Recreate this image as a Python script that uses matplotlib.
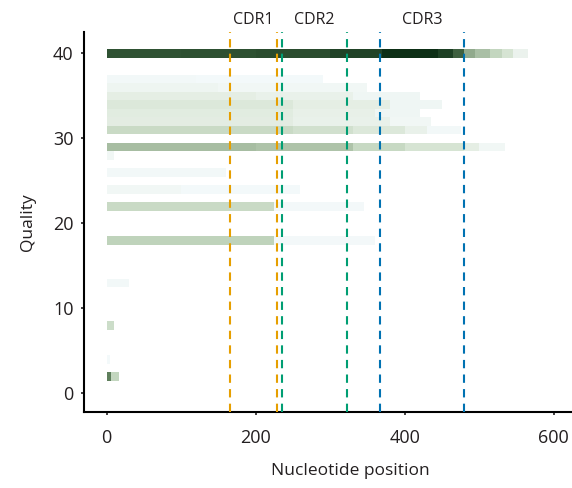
import numpy as np
import matplotlib
matplotlib.use("Agg")
import matplotlib.pyplot as plt
from matplotlib.colors import LinearSegmentedColormap

# ---- data: per quality row, piecewise segments (start, end, relative density) ----
q40 = [(0, 100, 0.80), (100, 200, 0.81), (200, 300, 0.83), (300, 370, 0.88),
       (370, 445, 0.99), (445, 465, 0.90), (465, 480, 0.75), (480, 495, 0.50),
       (495, 515, 0.42), (515, 530, 0.30), (530, 545, 0.20), (545, 566, 0.08)]
q37 = [(0, 120, 0.03), (120, 290, 0.02)]
q36 = [(0, 150, 0.06), (150, 350, 0.04)]
q35 = [(0, 200, 0.12), (200, 330, 0.09), (330, 420, 0.05)]
q34 = [(0, 250, 0.17), (250, 380, 0.12), (380, 450, 0.05)]
q33 = [(0, 250, 0.14), (250, 360, 0.10), (360, 420, 0.05)]
q32 = [(0, 250, 0.13), (250, 380, 0.09), (380, 435, 0.04)]
q31 = [(0, 250, 0.27), (250, 330, 0.23), (330, 400, 0.17), (400, 430, 0.09), (430, 475, 0.03)]
q29 = [(0, 200, 0.43), (200, 330, 0.40), (330, 400, 0.28), (400, 480, 0.20),
       (480, 500, 0.12), (500, 535, 0.04)]
q28 = [(0, 10, 0.04)]
q26 = [(0, 160, 0.03)]
q24 = [(0, 100, 0.04), (100, 260, 0.02)]
q22 = [(0, 225, 0.27), (225, 345, 0.025)]
q18 = [(0, 225, 0.32), (225, 360, 0.025)]
q13 = [(0, 30, 0.03)]
q8 = [(0, 10, 0.25)]
q4 = [(0, 5, 0.02)]
q2 = [(0, 6, 0.65), (6, 16, 0.30)]

rows = [(40, q40), (37, q37), (36, q36), (35, q35), (34, q34), (33, q33),
        (32, q32), (31, q31), (29, q29), (28, q28), (26, q26), (24, q24),
        (22, q22), (18, q18), (13, q13), (8, q8), (4, q4), (2, q2)]

cdr_bounds = [166, 228, 235, 323, 367, 480]
cdr_colors = ["#E69F00", "#E69F00", "#009E73", "#009E73", "#0072B2", "#0072B2"]
cdr_labels = ["CDR1", "CDR2", "CDR3"]

# ---- build grid (1 nt x 1 quality) ----
max_pos = 570
max_q = 41
grid = np.zeros((max_q + 1, max_pos))
for q, segs in rows:
    for s, e, v in segs:
        grid[q, s:e] = v
grid = np.ma.masked_where(grid <= 0, grid)

cmap = LinearSegmentedColormap.from_list(
    "qual", [(0.0, "#f6fbfe"), (0.1, "#e8f0e8"), (0.2, "#d6e4d3"), (0.3, "#c3d6bf"),
             (0.45, "#a3b99e"), (0.65, "#5f7f5c"), (0.8, "#2f5233"), (1.0, "#0c2e15")])

plt.rcParams["font.family"] = ["Open Sans", "DejaVu Sans"]

fig = plt.figure(figsize=(5.72, 4.88), dpi=100)
ax = fig.add_axes([0.1469, 0.1557, 0.8531, 0.7787])

xe = np.arange(max_pos + 1)
ye = np.arange(max_q + 2) - 0.5
ax.pcolormesh(xe, ye, grid, cmap=cmap, vmin=0, vmax=1, shading="flat", rasterized=True)

for b, c in zip(cdr_bounds, cdr_colors):
    ax.axvline(b, color=c, lw=1.5, linestyle=(0, (4, 3)), zorder=3)

for i, lab in enumerate(cdr_labels):
    xm = (cdr_bounds[2 * i] + cdr_bounds[2 * i + 1]) / 2
    ax.text(xm, 43.9, lab, ha="center", va="center", fontsize=11.5, color="#231f20",
            clip_on=False)

ax.set_xlim(-30.5, 624.6)
ax.set_ylim(-2.2, 42.5)
ax.set_xticks([0, 200, 400, 600])
ax.set_yticks([0, 10, 20, 30, 40])

for s in ["top", "right"]:
    ax.spines[s].set_visible(False)
for s in ["left", "bottom"]:
    ax.spines[s].set_linewidth(1.5)

ax.tick_params(axis="x", length=2.5, width=1.2, pad=10, labelsize=13, colors="#231f20")
ax.tick_params(axis="y", length=2.5, width=1.2, pad=5, labelsize=13, colors="#231f20")
ax.set_xlabel("Nucleotide position", fontsize=12.5, labelpad=15, color="#231f20")
ax.xaxis.set_label_coords(0.545, -0.135)
ax.set_ylabel("Quality", fontsize=12.5, labelpad=12, color="#231f20")

fig.savefig("out.png", dpi=100)
